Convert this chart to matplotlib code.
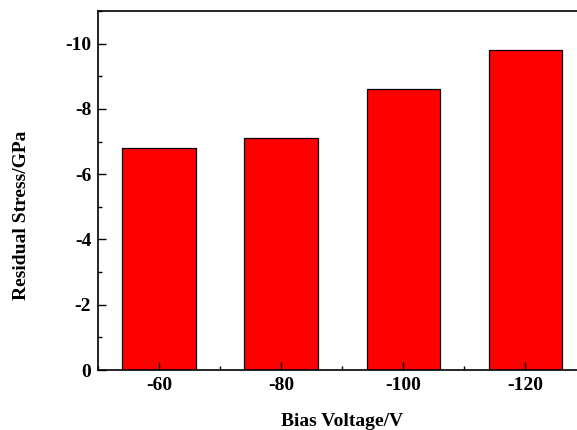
import matplotlib.pyplot as plt
from matplotlib.ticker import MultipleLocator

plt.rcParams["font.family"] = ["Liberation Serif", "DejaVu Serif"]
plt.rcParams["font.weight"] = "bold"

# residual stress vs. substrate bias
bias_labels = ["-60", "-80", "-100", "-120"]
stress_gpa = [-6.8, -7.1, -8.6, -9.8]
y_ticks = [0, -2, -4, -6, -8, -10]

fig = plt.figure(figsize=(5.77, 4.30), dpi=100)
ax = fig.add_axes([0.170, 0.1395, 0.8458, 0.835])

x = range(len(bias_labels))
ax.bar(x, stress_gpa, width=0.6, color="#ff0000", edgecolor="black", linewidth=0.9)

ax.set_xlim(-0.5, 3.5)
ax.set_ylim(0, -11)
ax.set_xticks(list(x))
ax.set_xticklabels(bias_labels)
ax.set_yticks(y_ticks)
ax.set_yticklabels([str(t) for t in y_ticks])
ax.xaxis.set_minor_locator(MultipleLocator(1, offset=0.5))
ax.yaxis.set_minor_locator(MultipleLocator(1))

ax.tick_params(which="both", direction="in", top=False, right=False, width=1.0)
ax.tick_params(which="major", length=6, labelsize=14, pad=5)
ax.tick_params(which="minor", length=3)
for lbl in ax.get_xticklabels() + ax.get_yticklabels():
    lbl.set_fontweight("bold")

for sp in ax.spines.values():
    sp.set_linewidth(1.2)

ax.set_xlabel("Bias Voltage/V", fontsize=14, fontweight="bold", labelpad=14)
ax.set_ylabel("Residual Stress/GPa", fontsize=14, fontweight="bold")
# y label sits a little below the axis middle
ax.yaxis.set_label_coords(-0.14, 0.43)

fig.savefig("out.png", dpi=100)
